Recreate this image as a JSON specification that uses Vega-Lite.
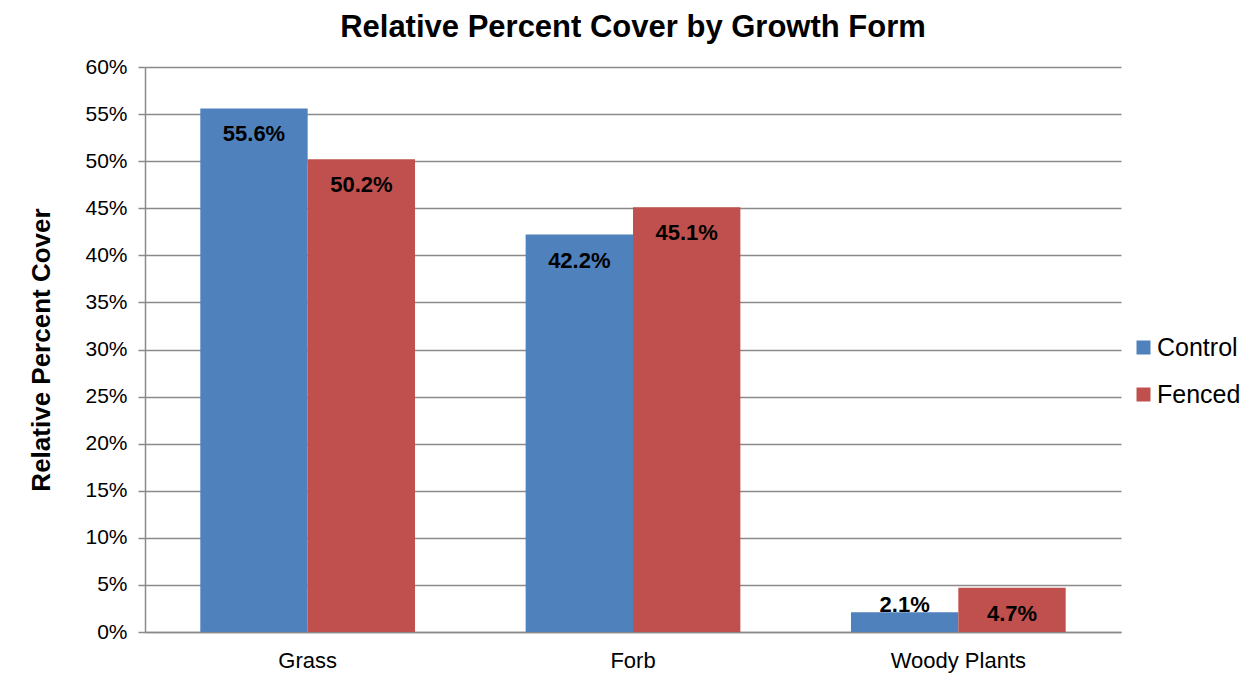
{
  "$schema": "https://vega.github.io/schema/vega-lite/v6.json",
  "width": 976,
  "height": 565,
  "autosize": {"type": "none"},
  "padding": {"left": 145, "top": 67, "right": 132, "bottom": 43},
  "background": "white",
  "title": {
    "text": "Relative Percent Cover by Growth Form",
    "font": "Liberation Sans",
    "fontSize": 31,
    "fontWeight": "bold",
    "color": "black",
    "anchor": "middle",
    "frame": "group",
    "baseline": "bottom",
    "offset": 23,
    "dy": 42
  },
  "data": {
    "values": [
      {"form": "Grass", "treatment": "Control", "cover": 0.556},
      {"form": "Grass", "treatment": "Fenced", "cover": 0.502},
      {"form": "Forb", "treatment": "Control", "cover": 0.422},
      {"form": "Forb", "treatment": "Fenced", "cover": 0.451},
      {"form": "Woody Plants", "treatment": "Control", "cover": 0.021},
      {"form": "Woody Plants", "treatment": "Fenced", "cover": 0.047}
    ]
  },
  "encoding": {
    "x": {
      "field": "form",
      "type": "nominal",
      "sort": ["Grass", "Forb", "Woody Plants"],
      "scale": {"paddingInner": 0.34, "paddingOuter": 0.17},
      "axis": {
        "title": null,
        "labelAngle": 0,
        "labelFont": "Liberation Sans",
        "labelFontSize": 22,
        "labelColor": "black",
        "labelPadding": 18,
        "ticks": false,
        "tickSize": 0,
        "domainColor": "#8a8a8a",
        "domainWidth": 1.5,
        "grid": false
      }
    },
    "xOffset": {
      "field": "treatment",
      "type": "nominal",
      "sort": ["Control", "Fenced"],
      "scale": {"paddingInner": 0, "paddingOuter": 0}
    },
    "y": {
      "field": "cover",
      "type": "quantitative",
      "scale": {"domain": [0, 0.6], "nice": false},
      "axis": {
        "title": "Relative Percent Cover",
        "titleFont": "Liberation Sans",
        "titleFontSize": 26,
        "titleFontWeight": "bold",
        "titleColor": "black",
        "titlePadding": 30,
        "format": "%",
        "values": [0, 0.05, 0.1, 0.15, 0.2, 0.25, 0.3, 0.35, 0.4, 0.45, 0.5, 0.55, 0.6],
        "labelFont": "Liberation Sans",
        "labelFontSize": 21,
        "labelColor": "black",
        "labelPadding": 11,
        "tickSize": 7,
        "tickColor": "#8a8a8a",
        "tickWidth": 1.5,
        "domainColor": "#8a8a8a",
        "domainWidth": 1.5,
        "grid": true,
        "gridColor": "#8a8a8a",
        "gridWidth": 1.5
      }
    }
  },
  "layer": [
    {
      "mark": {"type": "bar"},
      "encoding": {
        "color": {
          "field": "treatment",
          "type": "nominal",
          "sort": ["Control", "Fenced"],
          "scale": {"domain": ["Control", "Fenced"], "range": ["#4F81BD", "#C0504D"]},
          "legend": {
            "title": null,
            "orient": "none",
            "legendX": 986,
            "legendY": 268,
            "symbolType": "square",
            "symbolSize": 196,
            "symbolStrokeWidth": 0,
            "symbolOpacity": 1,
            "labelFont": "Liberation Sans",
            "labelFontSize": 25,
            "labelColor": "black",
            "labelOffset": 1,
            "rowPadding": 21
          }
        }
      }
    },
    {
      "transform": [{"filter": "datum.cover >= 0.03"}],
      "mark": {
        "type": "text",
        "baseline": "middle",
        "dy": 26,
        "font": "Liberation Sans",
        "fontSize": 22,
        "fontWeight": "bold",
        "color": "black"
      },
      "encoding": {
        "text": {"field": "cover", "type": "quantitative", "format": ".1%"}
      }
    },
    {
      "transform": [{"filter": "datum.cover < 0.03"}],
      "mark": {
        "type": "text",
        "baseline": "alphabetic",
        "dy": 0,
        "font": "Liberation Sans",
        "fontSize": 22,
        "fontWeight": "bold",
        "color": "black"
      },
      "encoding": {
        "text": {"field": "cover", "type": "quantitative", "format": ".1%"}
      }
    }
  ],
  "config": {
    "view": {"stroke": null}
  }
}
